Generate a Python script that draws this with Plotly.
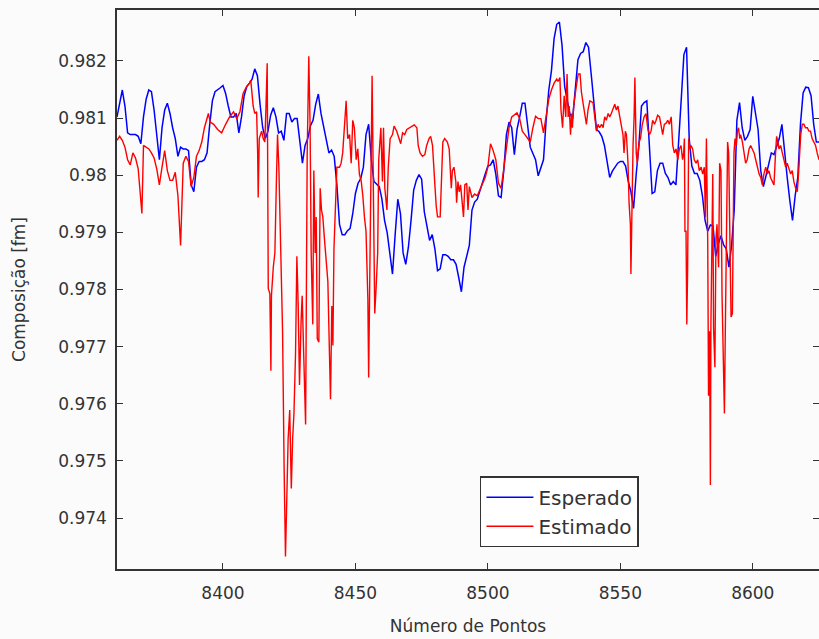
import plotly.graph_objects as go

# ---------------- data ----------------
x_start, x_end = 8360, 8625
esperado_x = list(range(x_start, x_end + 1))
esperado_y = [
    0.98102, 0.98127, 0.98149, 0.98121, 0.98074, 0.98071, 0.98071, 0.98071, 0.98068, 0.98055,
    0.98102, 0.98133, 0.98149, 0.98146, 0.98114, 0.98071, 0.98027, 0.98083, 0.98114, 0.98126,
    0.98108, 0.98083, 0.98064, 0.98033, 0.98049, 0.98046, 0.98046, 0.98043, 0.97983, 0.97971,
    0.98014, 0.98024, 0.98024, 0.98027,
    0.98039, 0.98089, 0.98130, 0.98146, 0.98149, 0.98153, 0.98157, 0.98143, 0.98121, 0.98102,
    0.98102, 0.98108, 0.98074, 0.98102, 0.98139, 0.98155, 0.98161, 0.98168, 0.98186, 0.98174,
    0.98124, 0.98083, 0.98064, 0.98077, 0.98105, 0.98118, 0.98102, 0.98074, 0.98077, 0.98061,
    0.98108, 0.98108, 0.98093,
    0.98099, 0.98099, 0.98064, 0.98021, 0.98052, 0.98064, 0.98086, 0.98096, 0.98124, 0.98142,
    0.98108, 0.98086, 0.98058, 0.98039, 0.98044, 0.98033, 0.97983, 0.97914, 0.97896, 0.97896,
    0.97903, 0.97907, 0.97933, 0.97968, 0.97986, 0.97994, 0.98014, 0.98071, 0.98089, 0.98027,
    0.97989, 0.97984, 0.97980,
    0.97958, 0.97921, 0.97899, 0.97858, 0.97827, 0.97896, 0.97958, 0.97933, 0.97864, 0.97844,
    0.97874, 0.97921, 0.97974, 0.97991, 0.98001, 0.97993, 0.97936, 0.97911, 0.97886, 0.97896,
    0.97871, 0.97833, 0.97836, 0.97861, 0.97861, 0.97858, 0.97852, 0.97852, 0.97844, 0.97821,
    0.97796, 0.97839, 0.97858,
    0.97877, 0.97939, 0.97953, 0.97958, 0.97974, 0.97986, 0.98002, 0.98016, 0.98018, 0.98027,
    0.98002, 0.97964, 0.97961, 0.98008, 0.98071, 0.98093, 0.98083, 0.98036, 0.98080, 0.98102,
    0.98126, 0.98126, 0.98083, 0.98049, 0.98038, 0.98027, 0.97999, 0.98014, 0.98027, 0.98096,
    0.98149, 0.98183, 0.98239, 0.98264,
    0.98268, 0.98227, 0.98155, 0.98130, 0.98107, 0.98099, 0.98149, 0.98202, 0.98213, 0.98216,
    0.98232, 0.98224, 0.98177, 0.98132, 0.98080, 0.98076, 0.98068, 0.98052, 0.98024, 0.97996,
    0.98007, 0.98014, 0.98021, 0.98024, 0.98024, 0.98016, 0.97989, 0.97971, 0.97942, 0.98002,
    0.98052, 0.98121, 0.98127,
    0.98130, 0.98039, 0.97968, 0.97971, 0.98008, 0.98021, 0.98021, 0.98003, 0.97996, 0.97983,
    0.97989, 0.97983, 0.98052, 0.98133, 0.98211, 0.98224, 0.98064, 0.98016, 0.98003, 0.98003,
    0.97991, 0.97964, 0.97921, 0.97902, 0.97913, 0.97911, 0.97858, 0.97880, 0.97894, 0.97878,
    0.97871, 0.97839, 0.97877,
    0.97939, 0.98096, 0.98127, 0.98083, 0.98061, 0.98068, 0.98080, 0.98138, 0.98105, 0.98080,
    0.98008, 0.97980, 0.97999, 0.98021, 0.98039, 0.98036, 0.98051, 0.98064, 0.98089, 0.98039,
    0.97996, 0.97955, 0.97921, 0.97964, 0.97996, 0.98089, 0.98144, 0.98154, 0.98153, 0.98139,
    0.98089, 0.98058, 0.98058,
]

estimado_x = [
    8360, 8361, 8362, 8363, 8364, 8365, 8366, 8367, 8368, 8369, 8369.4, 8370, 8371, 8372, 8373,
    8374, 8375, 8376, 8377, 8378, 8379, 8380, 8381, 8382, 8383, 8384, 8385, 8386, 8387, 8388,
    8389, 8390, 8391, 8392, 8393,
    8394.5, 8395.2, 8396.5, 8398, 8399.5, 8401, 8402.5, 8404, 8405.2, 8406.4, 8407.6, 8408.9,
    8410, 8410.5, 8411.4, 8412, 8412.7, 8413.1, 8413.3, 8413.7, 8414.6, 8415.2, 8415.8, 8416.2,
    8416.7, 8417.1, 8417.7, 8418.1, 8418.3, 8419, 8419.6, 8420.2, 8420.6, 8421.1, 8421.8,
    8422.5, 8423.1, 8423.6, 8424.1, 8424.6, 8425.2, 8425.8, 8426.3,
    8426.8, 8427.4, 8427.9, 8428.4, 8428.9, 8429.5, 8429.9, 8430.5, 8431.2, 8431.4, 8431.8,
    8432.4, 8432.9, 8433.3, 8433.9, 8434.3, 8434.8, 8435.2, 8435.6, 8436.2, 8436.7, 8437.2,
    8437.7, 8438.3, 8438.9, 8439.6, 8440.2, 8440.6, 8441.1, 8441.5, 8441.9, 8442.5, 8443,
    8444, 8444.6, 8445.2, 8445.9, 8446.5, 8447.1, 8447.8, 8448.4, 8449, 8449.6, 8450.3,
    8450.9, 8451.5, 8452.2, 8452.8, 8453.4, 8454, 8454.7, 8455, 8455.5, 8455.9, 8456.3,
    8456.8, 8457.3, 8457.8, 8458.4, 8458.8, 8459.3,
    8459.6, 8460.2, 8460.6, 8461.1, 8461.9, 8462.4, 8463.1, 8464, 8464.6, 8465.6, 8466.5,
    8467.1, 8467.8, 8468.6, 8469.4, 8470.3, 8471.2, 8472.2, 8473.2, 8473.7, 8474.4, 8475.3,
    8476.2, 8476.9, 8477.8, 8478.4, 8479.1, 8479.5, 8480, 8480.5, 8481, 8482, 8482.6, 8483,
    8483.7, 8484.7, 8485.4, 8485.7, 8486.2, 8486.6, 8487.2, 8487.9, 8488.2, 8488.7, 8489.2,
    8489.7, 8490.4, 8490.8, 8491.3, 8492, 8492.5,
    8493, 8494, 8495, 8496, 8497, 8498, 8499, 8500, 8501, 8502, 8503, 8504, 8505, 8506, 8507,
    8508, 8509, 8510, 8511, 8512, 8513, 8514, 8515, 8516, 8517, 8518, 8519, 8520, 8521, 8522,
    8523, 8524, 8525, 8526,
    8526.5, 8527.2, 8527.6, 8528.2, 8528.8, 8529.4, 8529.9, 8530.3, 8530.7, 8531.2, 8531.6,
    8531.9, 8532.4, 8533.2, 8534.1, 8534.8, 8535.3, 8535.9, 8536.6, 8537.2, 8537.8, 8538.5,
    8539.7, 8540.3, 8541, 8541.6, 8542.2, 8542.9, 8543.5, 8544.1, 8544.7, 8545.4, 8546,
    8546.6, 8547.3, 8547.9, 8548.5, 8549.1, 8549.8, 8550.4, 8551, 8551.4, 8551.9, 8552.3,
    8552.9, 8553.3, 8553.8, 8554.0, 8554.5, 8554.8, 8555.2, 8555.5, 8556, 8556.4, 8557.1,
    8557.6, 8558.3, 8559,
    8559.7, 8560.4, 8561, 8561.6, 8562.2, 8562.9, 8563.5, 8564.1, 8564.8, 8565.4, 8566,
    8566.6, 8567.3, 8567.9, 8568.5, 8569.2, 8569.8, 8570.4, 8571, 8571.7, 8572.3, 8572.9,
    8573.5, 8573.9, 8574.2, 8574.4, 8574.8, 8575.1, 8575.4, 8575.8, 8576.3, 8576.7, 8577.3,
    8577.9, 8578.6, 8579.2, 8579.8, 8580.5, 8581.1, 8581.7, 8582.1, 8582.5, 8583, 8583.3,
    8583.7, 8584, 8584.2, 8584.6, 8584.9, 8585.2, 8585.7, 8586.1, 8586.5, 8586.7, 8587.1,
    8587.5, 8588, 8588.4, 8588.8, 8589.3, 8589.6, 8590, 8590.5, 8590.9, 8591.3, 8591.8,
    8592.3,
    8592.7, 8592.9, 8593.3, 8593.8, 8594.2, 8594.6, 8595.1, 8595.4, 8596.1, 8596.7, 8597.3,
    8597.9, 8598.6, 8599.2, 8599.8, 8600.5, 8601.1, 8601.7, 8602.4, 8603, 8603.6, 8604.2,
    8604.9, 8605.5, 8606.1, 8606.7, 8607.4, 8608, 8608.6, 8609, 8609.5, 8609.9, 8610.5,
    8611.1, 8611.8, 8612.4, 8613, 8613.7, 8614.3, 8614.9, 8615.5, 8616.2, 8616.8, 8617.2,
    8617.7, 8618.1, 8618.7, 8619.3, 8619.9, 8620.6, 8621.2, 8621.8, 8622.4, 8623.1, 8623.7,
    8624.3, 8625,
]
estimado_y = [
    0.98061, 0.98068, 0.98061, 0.98049, 0.98027, 0.98018, 0.98039, 0.98030, 0.98011, 0.97952,
    0.97933, 0.98052, 0.98049, 0.98046, 0.98039, 0.98030, 0.98011, 0.97983, 0.98014, 0.98043,
    0.98008, 0.97991, 0.97991, 0.98005, 0.97964, 0.97877, 0.98021, 0.98033, 0.98024, 0.97980,
    0.97996, 0.98033, 0.98043, 0.98058, 0.98083,
    0.98108, 0.98093, 0.98089, 0.98080, 0.98074, 0.98089, 0.98102, 0.98111, 0.98099, 0.98111,
    0.98143, 0.98155, 0.98161, 0.98166, 0.98121, 0.98108, 0.98111, 0.98039, 0.97961, 0.98064,
    0.98077, 0.98064, 0.98058, 0.98114, 0.98196, 0.97802, 0.97793, 0.97658, 0.97789, 0.97839,
    0.97864, 0.97996, 0.98071, 0.98014, 0.97889, 0.97727, 0.97483, 0.97333, 0.97433, 0.97539,
    0.97589, 0.97452, 0.97539,
    0.97583, 0.97689, 0.97858, 0.97771, 0.97633, 0.97746, 0.97789, 0.97683, 0.97564, 0.97721,
    0.98039, 0.98208, 0.98083, 0.97864, 0.97739, 0.98008, 0.97864, 0.97927, 0.97714, 0.97708,
    0.97977, 0.97939, 0.97927, 0.97889, 0.97852, 0.97814, 0.97689, 0.97608, 0.97771, 0.97702,
    0.97871, 0.97958, 0.98014, 0.98014, 0.98021, 0.98039, 0.98099, 0.98130, 0.98064, 0.98071,
    0.98021, 0.98096, 0.98083, 0.98027, 0.98046, 0.98002, 0.97989, 0.97964, 0.97927, 0.97902,
    0.97783, 0.97646, 0.97852, 0.98039, 0.98174, 0.97964, 0.97758, 0.97802, 0.97864, 0.98027,
    0.98077,
    0.98083, 0.97989, 0.98083, 0.97977, 0.97939, 0.98014, 0.98064, 0.98071, 0.98086, 0.98077,
    0.98064, 0.98055, 0.98074, 0.98071, 0.98080, 0.98083, 0.98086, 0.98088, 0.98083, 0.98052,
    0.98039, 0.98033, 0.98036, 0.98052, 0.98064, 0.98068, 0.98052, 0.98014, 0.97983, 0.97946,
    0.97927, 0.97927, 0.97996, 0.98058, 0.98064, 0.98058, 0.98046, 0.98014, 0.97977, 0.98008,
    0.98014, 0.97989, 0.97952, 0.97989, 0.97971, 0.97983, 0.97946, 0.97927, 0.97983, 0.97986,
    0.97939,
    0.97980, 0.97961, 0.97967, 0.97964, 0.97974, 0.97986, 0.97996, 0.98014, 0.98055, 0.98043,
    0.98027, 0.97986, 0.97977, 0.98011, 0.98052, 0.98083, 0.98102, 0.98105, 0.98109, 0.98099,
    0.98077, 0.98071, 0.98064, 0.98058, 0.98083, 0.98103, 0.98099, 0.98099, 0.98074, 0.98102,
    0.98133, 0.98149, 0.98161, 0.98168,
    0.98164, 0.98171, 0.98114, 0.98083, 0.98139, 0.98102, 0.98177, 0.98102, 0.98121, 0.98071,
    0.98108, 0.98083, 0.98121, 0.98149, 0.98177, 0.98177, 0.98146, 0.98127, 0.98102, 0.98089,
    0.98114, 0.98130, 0.98127, 0.98108, 0.98077, 0.98089, 0.98083, 0.98089, 0.98083, 0.98102,
    0.98096, 0.98108, 0.98102, 0.98108, 0.98118, 0.98124, 0.98114, 0.98121, 0.98102, 0.98089,
    0.98071, 0.98039, 0.98077, 0.98071, 0.98021, 0.97952, 0.97914, 0.97827, 0.97977, 0.98052,
    0.98102, 0.98171, 0.98039, 0.98021, 0.98058, 0.98064, 0.98089, 0.98102,
    0.98108, 0.98080, 0.98071, 0.98077, 0.98096, 0.98089, 0.98096, 0.98105, 0.98102, 0.98083,
    0.98071, 0.98089, 0.98091, 0.98096, 0.98089, 0.98102, 0.98052, 0.98039, 0.98046, 0.98027,
    0.98046, 0.98052, 0.98027, 0.98039, 0.98064, 0.97902, 0.97902, 0.97739, 0.97833, 0.98064,
    0.98046, 0.98052, 0.98046, 0.98027, 0.98021, 0.98027, 0.98008, 0.98014, 0.98002, 0.98014,
    0.97927, 0.98064, 0.97883, 0.97614, 0.97727, 0.97458, 0.97739, 0.97889, 0.98002, 0.97733,
    0.97664, 0.97889, 0.97914, 0.97883, 0.97839, 0.98021, 0.98008, 0.97789, 0.97658, 0.97583,
    0.97714, 0.97914, 0.98058, 0.98039, 0.97914, 0.97752, 0.97758,
    0.97914, 0.98039, 0.98064, 0.98052, 0.98077, 0.98083, 0.98064, 0.98071, 0.98058, 0.98039,
    0.98021, 0.98027, 0.98046, 0.98052, 0.98046, 0.98039, 0.98027, 0.98014, 0.98002, 0.97996,
    0.97983, 0.98002, 0.98014, 0.98002, 0.98008, 0.97996, 0.97989, 0.97983, 0.98039, 0.98068,
    0.98058, 0.98046, 0.98052, 0.98039, 0.98027, 0.98014, 0.98021, 0.98008, 0.98002, 0.98008,
    0.97989, 0.97977, 0.97971, 0.97996, 0.98039, 0.98071, 0.98089, 0.98089, 0.98083, 0.98083,
    0.98077, 0.98077, 0.98064, 0.98058, 0.98052, 0.98039, 0.98027,
]

x_ticks = [8400, 8450, 8500, 8550, 8600]
y_ticks = [0.974, 0.975, 0.976, 0.977, 0.978, 0.979, 0.980, 0.981, 0.982]
y_ticktext = ["0.974", "0.975", "0.976", "0.977", "0.978", "0.979", "0.98", "0.981", "0.982"]
x_range = [8360, 8625]
y_range = [0.97311, 0.98289]

# ---------------- figure ----------------
font_family = "DejaVu Sans, Arial, sans-serif"
fig = go.Figure()
fig.add_trace(go.Scatter(x=esperado_x, y=esperado_y, mode="lines", name="Esperado",
                         line=dict(color="#0000ff", width=1.5)))
fig.add_trace(go.Scatter(x=estimado_x, y=estimado_y, mode="lines", name="Estimado",
                         line=dict(color="#ff0000", width=1.4)))

axis_common = dict(showline=True, linecolor="#333333", linewidth=1.5, mirror="ticks",
                   ticks="inside", ticklen=6, tickcolor="#333333", showgrid=False,
                   zeroline=False, automargin=False,
                   tickfont=dict(family=font_family, size=17, color="#333333"))

fig.update_xaxes(range=x_range, tickvals=x_ticks, ticklabelstandoff=8,
                 title=dict(text="Número de Pontos", standoff=18,
                            font=dict(family=font_family, size=17, color="#333333")),
                 **axis_common)
fig.update_yaxes(range=y_range, tickvals=y_ticks, ticktext=y_ticktext, ticklabelstandoff=5,
                 title=dict(text="Composição [fm]", standoff=28,
                            font=dict(family=font_family, size=17, color="#333333")),
                 **axis_common)

fig.update_layout(
    width=819, height=639,
    margin=dict(l=117, r=0, t=10, b=70),
    paper_bgcolor="#fbfbfb", plot_bgcolor="#fbfbfb",
    showlegend=True,
    legend=dict(x=0.517, y=0.166, xanchor="left", yanchor="top",
                bgcolor="#ffffff", bordercolor="#333333", borderwidth=1.5,
                font=dict(family=font_family, size=20, color="#333333"),
                itemwidth=47, tracegroupgap=0),
)

fig.write_html(
    "out.html",
    config={"displayModeBar": False},
    post_script="document.body.style.margin='0';document.body.style.overflow='hidden';",
)
